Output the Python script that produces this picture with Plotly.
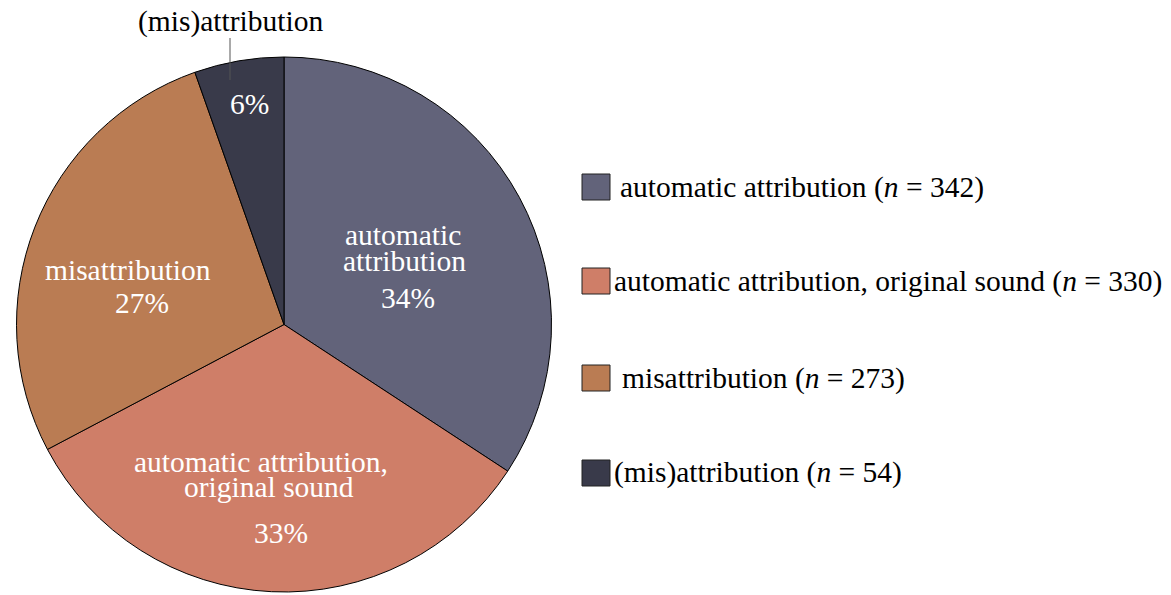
import plotly.graph_objects as go

categories = ["automatic attribution", "automatic attribution, original sound", "misattribution", "(mis)attribution"]
counts = [342, 330, 273, 54]
pct_labels = ["34%", "33%", "27%", "6%"]
slice_name_lines = [["automatic", "attribution"], ["automatic attribution,", "original sound"], ["misattribution"], []]
colors = ["#62637A", "#CF7E68", "#BA7C53", "#393A4A"]

W, H = 1171, 595
FONT = "Liberation Serif, Times New Roman, serif"
FS = 29.5

def px(x, y):
    return x / W, 1 - y / H

fig = go.Figure(go.Pie(
    labels=categories, values=counts, sort=False, direction="clockwise", rotation=0,
    marker=dict(colors=colors, line=dict(color="black", width=1)),
    textinfo="none", hoverinfo="label+value", showlegend=False,
    domain=dict(x=[px(16, 0)[0], px(552, 0)[0]], y=[px(0, 592)[1], px(0, 57)[1]]),
))

annots = []
name_line_pos = [[(403, 235), (404, 261)], [(261, 462), (269, 487)], [(128, 270)], []]
pct_pos = [(408, 298), (281, 533), (142, 303), (250, 104)]
for i in range(4):
    for line, (lxp, lyp) in zip(slice_name_lines[i], name_line_pos[i]):
        x, y = px(lxp, lyp)
        annots.append(dict(x=x, y=y, xref="paper", yref="paper", text=line,
                           showarrow=False, font=dict(family=FONT, size=FS, color="white"),
                           xanchor="center", yanchor="middle"))
    x, y = px(*pct_pos[i])
    annots.append(dict(x=x, y=y, xref="paper", yref="paper", text=pct_labels[i],
                       showarrow=False, font=dict(family=FONT, size=FS, color="white"),
                       xanchor="center", yanchor="middle"))
x, y = px(230, 22)
annots.append(dict(x=x, y=y, xref="paper", yref="paper", text=categories[3],
                   showarrow=False, font=dict(family=FONT, size=FS, color="black"),
                   xanchor="center", yanchor="middle"))

lx0, ly0 = px(230, 38)
lx1, ly1 = px(230, 80)
shapes = [dict(type="line", xref="paper", yref="paper", x0=lx0, x1=lx1, y0=ly0, y1=ly1,
               line=dict(color="#555555", width=1))]

leg_y = [187, 281, 378, 473]
text_x = [618, 612, 620, 612]
for i in range(4):
    cy = leg_y[i]
    x0, y0 = px(582, cy - 13)
    x1, y1 = px(610, cy + 13)
    shapes.append(dict(type="rect", xref="paper", yref="paper", x0=x0, x1=x1, y0=y0, y1=y1,
                       fillcolor=colors[i], line=dict(color="#222222", width=1)))
    x, y = px(text_x[i], cy)
    annots.append(dict(x=x, y=y, xref="paper", yref="paper",
                       text=f"{categories[i]} (<i>n</i> = {counts[i]})",
                       showarrow=False, font=dict(family=FONT, size=FS, color="black"),
                       xanchor="left", yanchor="middle"))

fig.update_layout(
    width=W, height=H, margin=dict(l=0, r=0, t=0, b=0),
    paper_bgcolor="white", plot_bgcolor="white",
    annotations=annots, shapes=shapes,
)
fig.write_html("out.html", config={"displayModeBar": False},
               post_script="document.body.style.margin='0';document.body.style.overflow='hidden';")
